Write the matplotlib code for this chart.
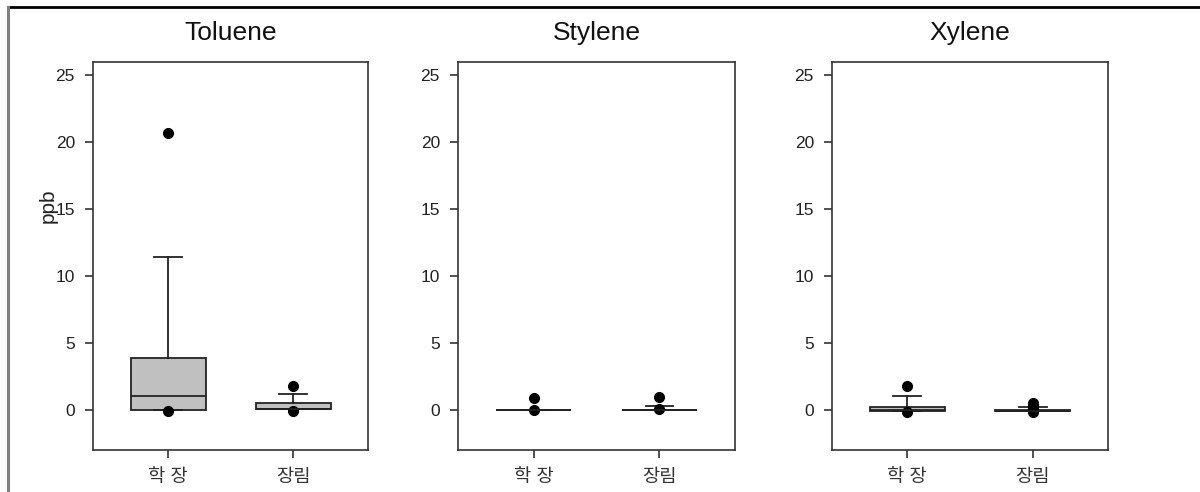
import matplotlib
matplotlib.use("Agg")
import matplotlib.pyplot as plt
from matplotlib.lines import Line2D

plt.rcParams['font.family'] = ['Liberation Sans', 'Noto Sans CJK KR', 'DejaVu Sans']

# 카테고리와 각 물질별 상자그림 통계
sites = ['학 장', '장림']
compounds = ['Toluene', 'Stylene', 'Xylene']

# 각 리스트: [학 장, 장림]
q1 = {'Toluene': [0.0, 0.05], 'Stylene': [0.0, 0.0], 'Xylene': [-0.12, -0.1]}
median = {'Toluene': [1.0, 0.1], 'Stylene': [0.0, 0.0], 'Xylene': [0.0, -0.05]}
q3 = {'Toluene': [3.85, 0.55], 'Stylene': [0.0, 0.0], 'Xylene': [0.25, 0.0]}
whis_lo = {'Toluene': [0.0, 0.05], 'Stylene': [0.0, 0.0], 'Xylene': [-0.12, -0.1]}
whis_hi = {'Toluene': [11.45, 1.2], 'Stylene': [0.0, 0.3], 'Xylene': [1.0, 0.25]}
outliers = {
    'Toluene': [[20.7, -0.05], [1.8, -0.05]],
    'Stylene': [[0.85, 0.0], [0.95, 0.05]],
    'Xylene': [[1.75, -0.18], [0.55, 0.3, 0.05, -0.15]],
}

yticks = [0, 5, 10, 15, 20, 25]

# 축 위치 (픽셀 기준, 1200x492)
W, H = 1200, 492
axes_px = [(93, 368), (458, 735), (832, 1108)]
top_px, bottom_px = 62, 450

fig = plt.figure(figsize=(12, 4.92), dpi=100)

# 바깥 테두리 선
fig.add_artist(Line2D([8 / W, 1], [1 - 7 / H, 1 - 7 / H], color='black', lw=2))
fig.add_artist(Line2D([7.5 / W, 7.5 / W], [0, 1 - 7 / H], color='#808080', lw=2.2))

for i, name in enumerate(compounds):
    left, right = axes_px[i]
    ax = fig.add_axes([left / W, 1 - bottom_px / H, (right - left) / W, (bottom_px - top_px) / H])
    stats = []
    for j, site in enumerate(sites):
        stats.append({
            'label': site,
            'q1': q1[name][j],
            'med': median[name][j],
            'q3': q3[name][j],
            'whislo': whis_lo[name][j],
            'whishi': whis_hi[name][j],
            'fliers': outliers[name][j],
        })
    ax.bxp(stats, positions=[1, 2], widths=0.6, capwidths=0.22, patch_artist=True,
           boxprops=dict(facecolor='#c0c0c0', edgecolor='#222222', linewidth=1.3),
           medianprops=dict(color='#222222', linewidth=1.3),
           whiskerprops=dict(color='#222222', linewidth=1.3),
           capprops=dict(color='#222222', linewidth=1.3),
           flierprops=dict(marker='o', markerfacecolor='black', markeredgecolor='black',
                           markersize=7))
    ax.set_xlim(0.4, 2.6)
    ax.set_ylim(-3, 26)
    ax.set_yticks(yticks)
    ax.set_xticks([1, 2])
    ax.set_xticklabels(sites, fontsize=13.5, color='#222222')
    ax.tick_params(axis='y', labelsize=12.5, colors='#333333', labelcolor='#222222',
                   length=5.5, width=1.2, pad=7.5)
    ax.tick_params(axis='x', colors='#333333', length=5.5, width=1.2, pad=8)
    for s in ax.spines.values():
        s.set_color('#333333')
        s.set_linewidth(1.2)
    ax.set_title(name, fontsize=19, color='#111111', pad=16)
    if i == 0:
        ax.set_ylabel('ppb', fontsize=15, color='#222222')
        ax.yaxis.set_label_coords(-0.13, 0.63)

fig.savefig('out.png', dpi=100)
